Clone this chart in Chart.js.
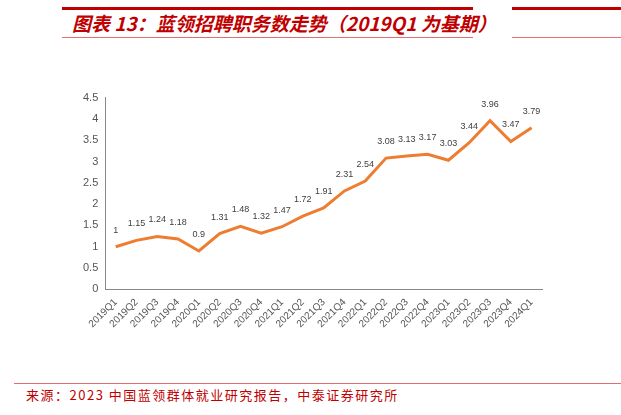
<!DOCTYPE html>
<html><head><meta charset="utf-8">
<script src="https://cdn.jsdelivr.net/npm/chart.js@4"></script>
<style>
body{margin:0;width:621px;height:415px;background:#fff;position:relative;overflow:hidden;font-family:"Noto Sans CJK SC",sans-serif}
.l{position:absolute}
</style></head><body>
<div class="l" style="left:62px;top:7px;width:411px;height:3px;background:#c00000"></div>
<div class="l" style="left:512px;top:7px;width:109px;height:3px;background:#c00000"></div>
<div class="l" style="left:62px;top:37px;width:411px;height:1px;background:#e07070"></div>
<div class="l" style="left:512px;top:37px;width:109px;height:1px;background:#e07070"></div>
<div class="l" style="left:72px;top:9px;font-size:19px;font-weight:bold;font-style:italic;color:#c00000;white-space:nowrap">图表 13：蓝领招聘职务数走势（2019Q1 为基期）</div>
<div class="l" style="left:14px;top:383px;width:607px;height:1px;background:#e07070"></div>
<div class="l" style="left:26px;top:385px;font-size:13px;color:#c00000;white-space:nowrap;letter-spacing:1.5px">来源：2023 中国蓝领群体就业研究报告，中泰证券研究所</div>
<div class="l" style="left:80px;top:88px;width:470px;height:245px"><canvas id="c"></canvas></div>
<script>
const categories=["2019Q1","2019Q2","2019Q3","2019Q4","2020Q1","2020Q2","2020Q3","2020Q4","2021Q1","2021Q2","2021Q3","2021Q4","2022Q1","2022Q2","2022Q3","2022Q4","2023Q1","2023Q2","2023Q3","2023Q4","2024Q1"];
const values=[1,1.15,1.24,1.18,0.9,1.31,1.48,1.32,1.47,1.72,1.91,2.31,2.54,3.08,3.13,3.17,3.03,3.44,3.96,3.47,3.79];
const labelPlugin={id:'lbl',afterDatasetsDraw(ch){const ctx=ch.ctx;const m=ch.getDatasetMeta(0);ctx.save();ctx.font='9px "Liberation Sans",Arial';ctx.fillStyle='#404040';ctx.textAlign='center';ctx.textBaseline='bottom';m.data.forEach((p,i)=>{ctx.fillText(String(values[i]),p.x,p.y-12);});ctx.restore();}};
new Chart(document.getElementById('c'),{type:'line',data:{labels:categories,datasets:[{data:values,borderColor:'#ed7d31',borderWidth:3,pointRadius:0,tension:0,fill:false}]},
options:{responsive:true,maintainAspectRatio:false,animation:false,layout:{padding:{top:4,right:8}},plugins:{legend:{display:false},tooltip:{enabled:false}},
scales:{x:{offset:true,grid:{display:false,drawTicks:true,tickLength:4,color:'#888'},border:{color:'#888'},ticks:{color:'#555',font:{size:10,family:'"Liberation Sans",Arial'},maxRotation:45,minRotation:45,autoSkip:false}},
y:{min:0,max:4.5,grid:{display:false,drawTicks:true,tickLength:4,color:'#888'},border:{color:'#888'},ticks:{stepSize:0.5,color:'#555',font:{size:11,family:'"Liberation Sans",Arial'},callback:v=>String(v)}}}},plugins:[labelPlugin]});
</script></body></html>
